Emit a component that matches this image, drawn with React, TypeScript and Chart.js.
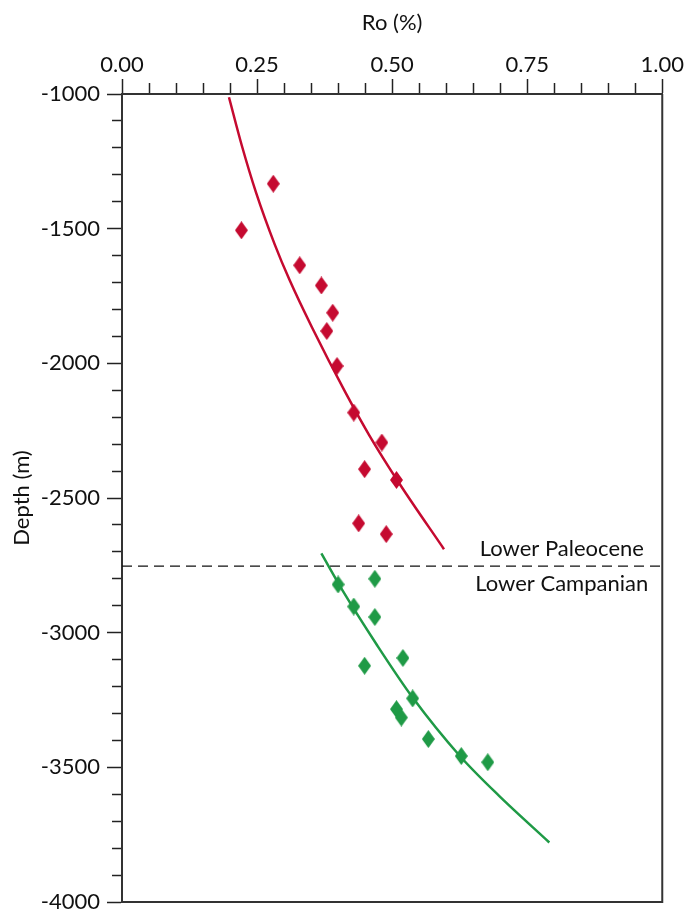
import React, { useEffect, useRef } from 'react';
import { Chart, registerables } from 'chart.js';

Chart.register(...registerables);

// Measured samples (Ro %, depth m)
const upperRo = [0.280, 0.221, 0.329, 0.369, 0.390, 0.379, 0.398, 0.429, 0.481, 0.449, 0.508, 0.438, 0.489];
const upperDepth = [-1333, -1506, -1636, -1711, -1812, -1880, -2010, -2183, -2294, -2393, -2433, -2594, -2634];

const lowerRo = [0.400, 0.468, 0.429, 0.468, 0.449, 0.520, 0.538, 0.508, 0.517, 0.567, 0.628, 0.677];
const lowerDepth = [-2821, -2800, -2903, -2942, -3123, -3094, -3244, -3284, -3315, -3395, -3458, -3481];

// Trend curves
const upperFitRo = [0.198, 0.222, 0.248, 0.283, 0.310, 0.352, 0.413, 0.458, 0.514, 0.596];
const upperFitDepth = [-1012, -1193, -1365, -1560, -1690, -1868, -2106, -2268, -2448, -2690];

const lowerFitRo = [0.369, 0.409, 0.471, 0.538, 0.625, 0.698, 0.791];
const lowerFitDepth = [-2706, -2846, -3043, -3241, -3457, -3606, -3779];

// Boundary between stratigraphic units
const boundaryDepth = -2753;
const upperUnitLabel = 'Lower Paleocene';
const lowerUnitLabel = 'Lower Campanian';

const xTitle = 'Ro (%)';
const yTitle = 'Depth (m)';
const xMajorTicks = [0, 0.25, 0.5, 0.75, 1.0];
const yMajorTicks = [-1000, -1500, -2000, -2500, -3000, -3500, -4000];

const RED = '#c50a30';
const GREEN = '#1f9a46';
const AXIS = '#333333';
const FONT = 'Lato';
const FS = 22;

function makeDiamond(color: string, w: number, h: number) {
  const c = document.createElement('canvas');
  c.width = w;
  c.height = h;
  const g = c.getContext('2d')!;
  g.fillStyle = color;
  g.beginPath();
  g.moveTo(w / 2, 0);
  g.lineTo(w, h / 2);
  g.lineTo(w / 2, h);
  g.lineTo(0, h / 2);
  g.closePath();
  g.fill();
  return c;
}

const zip = (xs: number[], ys: number[]) => xs.map((x, i) => ({ x, y: ys[i] }));

export default function App() {
  const ref = useRef<HTMLCanvasElement | null>(null);

  useEffect(() => {
    if (!ref.current) return;
    const redDiamond = makeDiamond(RED, 13, 18);
    const greenDiamond = makeDiamond(GREEN, 13, 18);

    const isMajorX = (v: number) => xMajorTicks.some((m) => Math.abs(m - v) < 1e-6);
    const isMajorY = (v: number) => yMajorTicks.some((m) => Math.abs(m - v) < 1e-6);

    const framePlugin = {
      id: 'frame',
      afterDraw(chart: any) {
        const { ctx, chartArea } = chart;
        const ys = chart.scales.y;
        const xs = chart.scales.x;
        ctx.save();
        ctx.strokeStyle = AXIS;
        ctx.lineWidth = 2;
        ctx.beginPath();
        ctx.moveTo(chartArea.right, chartArea.top);
        ctx.lineTo(chartArea.right, chartArea.bottom);
        ctx.lineTo(chartArea.left, chartArea.bottom);
        ctx.stroke();
        const yb = ys.getPixelForValue(boundaryDepth);
        ctx.fillStyle = '#111';
        ctx.font = `${FS}px ${FONT}`;
        ctx.textAlign = 'right';
        ctx.textBaseline = 'middle';
        ctx.fillText(upperUnitLabel, xs.getPixelForValue(0.966), yb - 17);
        ctx.fillText(lowerUnitLabel, xs.getPixelForValue(0.974), yb + 18);
        ctx.restore();
      },
    };

    const chart = new Chart(ref.current, {
      type: 'scatter',
      data: {
        datasets: [
          {
            label: 'upper samples',
            data: zip(upperRo, upperDepth),
            pointStyle: redDiamond as any,
            pointRadius: 7,
            showLine: false,
          },
          {
            label: 'lower samples',
            data: zip(lowerRo, lowerDepth),
            pointStyle: greenDiamond as any,
            pointRadius: 7,
            showLine: false,
          },
          {
            label: 'upper trend',
            data: zip(upperFitRo, upperFitDepth),
            showLine: true,
            borderColor: RED,
            borderWidth: 2.5,
            pointRadius: 0,
            cubicInterpolationMode: 'monotone',
          },
          {
            label: 'lower trend',
            data: zip(lowerFitRo, lowerFitDepth),
            showLine: true,
            borderColor: GREEN,
            borderWidth: 2.5,
            pointRadius: 0,
            cubicInterpolationMode: 'monotone',
          },
          {
            label: 'boundary',
            data: [
              { x: 0, y: boundaryDepth },
              { x: 1, y: boundaryDepth },
            ],
            showLine: true,
            borderColor: '#111',
            borderWidth: 1.2,
            borderDash: [10, 6],
            pointRadius: 0,
          },
        ],
      } as any,
      options: {
        animation: false,
        responsive: false,
        maintainAspectRatio: false,
        layout: { padding: { top: 0, left: 0, right: 0, bottom: 0 } },
        plugins: {
          legend: { display: false },
          tooltip: { enabled: false },
        },
        scales: {
          x: {
            type: 'linear',
            position: 'top',
            min: 0,
            max: 1,
            afterFit: (s: any) => {
              s.height = 94;
            },
            border: { display: true, color: AXIS, width: 2 },
            grid: {
              drawOnChartArea: false,
              drawTicks: true,
              tickLength: 15,
              tickColor: '#222',
              tickWidth: 1.5,
              tickBorderDash: (c: any) => (c.tick && isMajorX(c.tick.value) ? [] : [11, 4]),
              tickBorderDashOffset: (c: any) => (c.tick && isMajorX(c.tick.value) ? 0 : 11),
            } as any,
            ticks: {
              stepSize: 0.05,
              autoSkip: false,
              maxRotation: 0,
              padding: 1,
              color: '#111',
              font: { family: FONT, size: FS },
              callback: (v: any) => (isMajorX(Number(v)) ? Number(v).toFixed(2) : ''),
            },
            title: {
              display: true,
              text: xTitle,
              color: '#111',
              font: { family: FONT, size: FS },
              padding: { top: 10, bottom: 15 },
            },
          },
          y: {
            type: 'linear',
            position: 'left',
            min: -4000,
            max: -1000,
            afterFit: (s: any) => {
              s.width = 122;
              s.paddingBottom = 7;
              s.paddingTop = 0;
            },
            border: { display: true, color: AXIS, width: 2 },
            grid: {
              drawOnChartArea: false,
              drawTicks: true,
              tickLength: 15,
              tickColor: '#222',
              tickWidth: 1.5,
              tickBorderDash: (c: any) => (c.tick && isMajorY(c.tick.value) ? [] : [10, 5]),
              tickBorderDashOffset: (c: any) => (c.tick && isMajorY(c.tick.value) ? 0 : 10),
            } as any,
            ticks: {
              stepSize: 100,
              autoSkip: false,
              padding: 7,
              color: '#111',
              font: { family: FONT, size: FS },
              callback: (v: any) => (isMajorY(Number(v)) ? String(v) : ''),
            },
            title: {
              display: true,
              text: yTitle,
              color: '#111',
              font: { family: FONT, size: FS },
              padding: { top: 9, bottom: 10 },
            },
          },
        },
      } as any,
      plugins: [framePlugin],
    });

    return () => chart.destroy();
  }, []);

  return (
    <div style={{ position: 'fixed', left: 0, top: 0, width: 685, height: 910, background: '#fff' }}>
      <canvas ref={ref} width={685} height={910} style={{ width: 685, height: 910, display: 'block' }} />
    </div>
  );
}
